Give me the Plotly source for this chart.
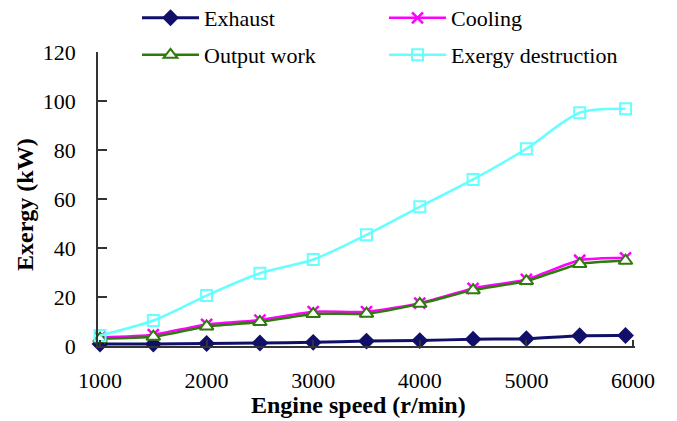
import plotly.graph_objects as go

speed = [1000, 1500, 2000, 2500, 3000, 3500, 4000, 4500, 5000, 5500, 5930]
exhaust = [0.8, 0.8, 1.0, 1.2, 1.5, 2.0, 2.2, 2.8, 3.0, 4.2, 4.3]
cooling = [3.5, 4.6, 8.8, 10.6, 14.0, 14.0, 17.5, 23.5, 27.2, 35.0, 36.0]
output_work = [3.0, 3.8, 8.0, 9.8, 13.1, 13.2, 17.2, 22.8, 26.5, 33.5, 34.8]
exergy_destruction = [4.3, 10.4, 20.6, 29.7, 35.3, 45.4, 56.8, 68.0, 80.5, 95.2, 96.8]

y_ticks = [0, 20, 40, 60, 80, 100, 120]
x_ticks = [1000, 2000, 3000, 4000, 5000, 6000]

FONT = "Liberation Serif"
NAVY = "#10106a"
MAGENTA = "#ff00ff"
GREEN = "#2f7a0c"
CYAN = "#66ffff"

fig = go.Figure()
fig.add_trace(go.Scatter(
    x=speed, y=exhaust, name="Exhaust", mode="lines+markers",
    line=dict(color=NAVY, width=3, shape="spline", smoothing=0.6),
    marker=dict(symbol="diamond", size=13, color=NAVY),
    cliponaxis=False, legend="legend"))
fig.add_trace(go.Scatter(
    x=speed, y=cooling, name="Cooling", mode="lines+markers",
    line=dict(color=MAGENTA, width=2.5, shape="spline", smoothing=0.6),
    marker=dict(symbol="x-thin-open", size=11, color=MAGENTA, line=dict(color=MAGENTA, width=2.5)),
    cliponaxis=False, legend="legend"))
fig.add_trace(go.Scatter(
    x=speed, y=output_work, name="Output work", mode="lines+markers",
    line=dict(color=GREEN, width=2.5, shape="spline", smoothing=0.6),
    marker=dict(symbol="triangle-up", size=12, color="white", line=dict(color=GREEN, width=2)),
    cliponaxis=False, legend="legend2"))
fig.add_trace(go.Scatter(
    x=speed, y=exergy_destruction, name="Exergy destruction", mode="lines+markers",
    line=dict(color=CYAN, width=2.5, shape="spline", smoothing=0.8),
    marker=dict(symbol="square-open", size=11, color=CYAN, line=dict(color=CYAN, width=2)),
    cliponaxis=False, legend="legend2"))

legend_common = dict(
    orientation="h", xref="container", yref="container",
    xanchor="left", yanchor="middle",
    font=dict(family=FONT, size=22, color="black"),
    bgcolor="rgba(0,0,0,0)", itemwidth=57, entrywidth=175,
    itemclick=False, itemdoubleclick=False,
)

fig.update_layout(
    width=677, height=421,
    margin=dict(l=98, r=42, t=52, b=75, autoexpand=False),
    paper_bgcolor="white", plot_bgcolor="white",
    font=dict(family=FONT, size=22, color="black"),
    showlegend=True,
    legend=dict(x=137 / 677, y=1 - 18 / 421, **legend_common),
    legend2=dict(x=137 / 677, y=1 - 55 / 421, **legend_common),
    xaxis=dict(
        range=[981, 6019], tickvals=x_ticks, ticktext=[str(v) for v in x_ticks],
        showgrid=False, zeroline=False, showline=True, linecolor="#333333", linewidth=1.5,
        ticks="inside", ticklen=6, tickcolor="#333333", tickwidth=1.5,
        ticklabelstandoff=14,
        tickfont=dict(family=FONT, size=22, color="black"),
    ),
    yaxis=dict(
        range=[0, 120], tickvals=y_ticks, ticktext=[str(v) for v in y_ticks],
        showgrid=False, zeroline=False, showline=True, linecolor="#333333", linewidth=1.5,
        ticks="inside", ticklen=9, tickcolor="#333333", tickwidth=1.5,
        ticklabelstandoff=16,
        tickfont=dict(family=FONT, size=22, color="black"),
    ),
    annotations=[
        dict(text="<b>Exergy (kW)</b>", xref="paper", yref="paper",
             x=-(98 - 25) / 537, y=(346 - 205) / 294, textangle=-90,
             showarrow=False, xanchor="center", yanchor="middle",
             font=dict(family=FONT, size=24, color="black")),
        dict(text="<b>Engine speed (r/min)</b>", xref="paper", yref="paper",
             x=(358 - 98) / 537, y=-(405 - 346) / 294,
             showarrow=False, xanchor="center", yanchor="middle",
             font=dict(family=FONT, size=24, color="black")),
    ],
)

fig.write_html("out.html")
